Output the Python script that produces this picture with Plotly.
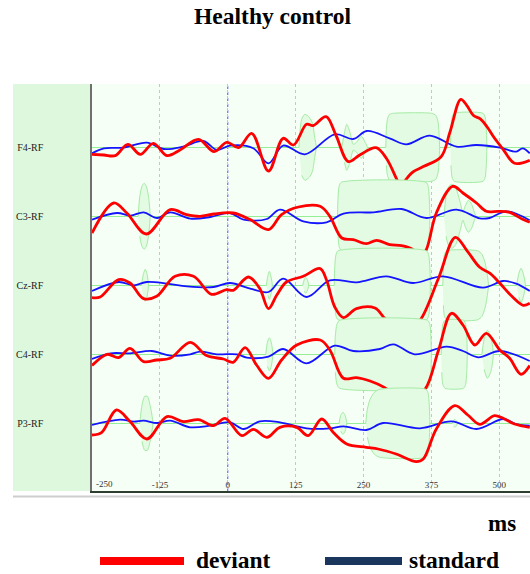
import plotly.graph_objects as go

# ---------------- data ----------------
channels = ["F4-RF", "C3-RF", "Cz-RF", "C4-RF", "P3-RF"]
baselines = [0, -69, -138, -207, -276]   # channel offsets (amplitude units)

tick_vals = [-250, -125, 0, 125, 250, 375, 500]
tick_text = ["-250", "-125", "0", "125", "250", "375", "500"]

# F4
f4_dev_t = [-250, -228, -207, -184, -161, -137, -112, -88, -54, -25, -2, 20, 44, 75, 102, 121, 145, 157, 181, 199, 222, 243, 273, 292, 312, 319, 327, 340, 360, 393, 409, 429, 440, 452, 466, 478, 490, 507, 528, 556]
f4_dev_v = [-7, -7.7, -8.3, 3, -7, 4, -8.3, -2.7, 8, -4.3, 5, -0.3, 14, -23.7, 9, 2.3, 23, 21.7, 30.7, 12.3, -14.3, -7.7, -0.3, -11, -33, -40, -33, -25, -19.3, -9.3, 15, 48, 42, 32, 28, 20, 10, -2, -16, -13]
f4_std_t = [-250, -228, -192, -149, -118, -82, -45, -20, 4, 47, 75, 102, 142, 197, 231, 256, 298, 329, 372, 421, 458, 501, 531, 543, 556]
f4_std_v = [-6, -1, -0.3, 4.7, -1.7, 0.7, 6.3, -2.7, 1.7, -1, -16, 1.7, -7, 13, 8.3, 16.3, 9, 3, 11.7, 0.7, 2.3, -0.3, -4.3, -1, -6]

# C3
c3_dev_t = [-250, -210, -186, -150, -106, -76, -51, -26, 10, 41, 75, 99, 130, 170, 188, 210, 231, 255, 274, 298, 320, 340, 352, 364, 384, 414, 433, 458, 476, 498, 519, 544, 556]
c3_dev_v = [-16.7, 13.3, 3.3, -17.7, 6.7, 1.7, 0, 2.3, 3.3, -3.3, -13.3, 1.7, 9.3, 10, 0, -21.7, -23.3, -27.3, -24, -28.3, -29.3, -33, -40, -35, 3.3, 30, 23.3, 13.3, 5, 5, 4, -3.3, -6]
c3_std_t = [-250, -204, -179, -155, -130, -106, -69, -32, 4, 29, 72, 96, 139, 182, 213, 268, 320, 366, 421, 464, 482, 513, 556]
c3_std_v = [-3.3, 3.3, 0.7, 4, -1.7, 4, -2.3, -0.7, 3.3, -3.3, -2.7, 6.7, -5, -6, 2.7, 4, 7.3, -1.7, 6.7, -2, -1.7, 5, -4]

# Cz
cz_dev_t = [-250, -235, -201, -180, -155, -131, -97, -63, -30, -2, 10, 38, 59, 75, 90, 108, 139, 170, 182, 197, 213, 237, 271, 289, 310, 335, 354, 388, 419, 440, 464, 483, 501, 525, 544, 556]
cz_dev_v = [-12.3, -11.7, 5.7, 2.3, -13.3, -11, 9, 9, -9, -4.3, -5, 8.3, -3.3, -23.3, -10, 3.3, 9, 16.7, 5, -21.7, -32.3, -23.3, -22.7, -33, -42, -42, -35, 7, 48, 35, 18, 12, 2, -12, -20, -18]
cz_std_t = [-250, -201, -173, -149, -112, -75, -26, 4, 41, 75, 102, 145, 188, 237, 292, 341, 396, 470, 507, 531, 556]
cz_std_v = [-5.7, 3.3, 0, 3.3, 1.7, -1, -1.7, 2.3, -3.3, -6.7, 6.7, -11.7, 5, 3, 9, 2.3, 9, -2.3, 4.3, 1.7, -5.7]

# C4
c4_dev_t = [-250, -222, -201, -180, -155, -131, -106, -69, -39, -8, 10, 32, 53, 75, 99, 127, 170, 188, 213, 237, 262, 289, 310, 340, 363, 388, 412, 433, 455, 476, 501, 519, 540, 556]
c4_dev_v = [-11.3, 0, -3.3, 6, -7.3, -5.7, -4, 12, -1.3, -4.7, -8, 6.7, -10.7, -24, -5.7, 9.3, 14.3, 4.3, -24, -23.3, -26.7, -33.3, -42, -42, -35, 4, 41, 29.3, 9.3, 21, 4.3, -4, -20, -11.3]
c4_std_t = [-250, -216, -180, -140, -106, -69, -51, -20, 17, 35, 75, 102, 145, 197, 231, 280, 305, 344, 403, 433, 461, 501, 556]
c4_std_v = [-4.7, 1, 1, 3.3, -1.3, 0, 2.7, 0, 0, -3.3, -2.3, 5.3, -9, 8.7, 3.3, 5.3, 10, 0, 7.7, 3.3, -3, 3.3, -6.7]

# P3
p3_dev_t = [-250, -232, -205, -180, -149, -112, -82, -54, -26, -5, 26, 47, 72, 96, 127, 148, 173, 194, 219, 255, 277, 310, 347, 360, 384, 418, 442, 464, 491, 507, 528, 556]
p3_dev_v = [-11.7, -9, 13.3, 1.7, -15.7, 6.7, 1.7, 3.7, -2.3, 5, -12.3, -6, -14, -4, -4, -12.3, 4.3, -9, -20.7, -24, -25.7, -30.7, -38.3, -35.7, -5.7, 17.7, 8.3, -1, 7.7, 5, -0.7, -4]
p3_std_t = [-250, -198, -173, -155, -130, -106, -69, -32, 4, 29, 59, 96, 145, 188, 213, 255, 286, 354, 412, 458, 507, 531, 556]
p3_std_v = [-1.7, 3.7, 1.7, 2.7, 0.3, 2.7, -4, -2.3, 1, -5.7, 2, 1, -5, -5, -3, -6.7, 0.3, -5, 2, -5.7, 4.3, -0.7, -2.3]

# significance envelopes (time, half-width)
f4_env = [
    ([131, 136, 142, 150, 156, 160, 163], [0, 28, 33, 30, 24, 10, 0]),
    ([210, 215, 219, 225, 231, 237, 246, 253, 257], [0, 15, 23, 15, 3, 5, 11, 5, 0]),
    ([291, 292, 294, 298, 305, 375, 383, 387, 389, 390], [0, 18, 28, 33, 34, 34, 32, 26, 14, 0]),
    ([410, 411, 413, 417, 470, 474, 476, 477], [0, 18, 30, 34, 34, 30, 18, 0]),
]
c3_env = [
    ([-165, -162, -158, -154, -150, -146, -143], [0, 20, 30, 33, 30, 20, 0]),
    ([202, 203, 205, 209, 365, 369, 371, 372], [0, 18, 30, 34, 34, 30, 18, 0]),
    ([398, 402, 407, 413, 420, 428, 433, 437, 443, 449, 454, 457], [0, 20, 30, 32, 28, 14, 4, 10, 16, 12, 4, 0]),
]
cz_env = [
    ([-159, -155, -152, -149, -146], [0, 12, 16, 12, 0]),
    ([71, 74, 76.5, 79, 82], [0, 10, 14, 10, 0]),
    ([138, 141, 143.5, 146, 149], [0, 6, 8, 6, 0]),
    ([196, 197, 199, 203, 366, 370, 372, 373], [0, 18, 30, 34.5, 34.5, 30, 18, 0]),
    ([396, 397, 399, 403, 460, 468, 474, 478, 480], [0, 20, 31, 34.5, 34.5, 31, 22, 10, 0]),
    ([532, 536, 540, 544, 548], [0, 12, 17, 12, 0]),
]
c4_env = [
    ([70, 73, 76.5, 80, 83], [0, 12, 16.5, 12, 0]),
    ([197, 198, 201, 206, 368, 372, 374, 375], [0, 18, 30, 34, 34, 30, 18, 0]),
    ([393, 394, 396, 400, 434, 438, 440, 441], [0, 18, 30, 34, 34, 30, 18, 0]),
    ([468, 472, 478, 484, 489], [0, 15, 24, 18, 0]),
]
p3_env = [
    ([-162, -158, -153, -148, -143, -138], [0, 18, 27, 27, 18, 0]),
    ([205, 208, 212, 216, 219], [0, 8, 11, 8, 0]),
    ([254, 257, 262, 270, 280, 365, 369, 371, 372], [0, 14, 24, 31, 34, 34, 30, 18, 0]),
    ([413, 416, 418, 420, 423], [0, 3, 4, 3, 0]),
]

series = [
    (f4_dev_t, f4_dev_v, f4_std_t, f4_std_v, f4_env),
    (c3_dev_t, c3_dev_v, c3_std_t, c3_std_v, c3_env),
    (cz_dev_t, cz_dev_v, cz_std_t, cz_std_v, cz_env),
    (c4_dev_t, c4_dev_v, c4_std_t, c4_std_v, c4_env),
    (p3_dev_t, p3_dev_v, p3_std_t, p3_std_v, p3_env),
]

# ---------------- styling ----------------
SERIF = "Liberation Serif"
RED = "#ff0000"
BLUE = "#1414ff"
NAVY = "#1b365d"
ENV_FILL = "rgb(226,251,226)"
ENV_LINE = "rgb(165,235,165)"

W, H = 530, 574
ML, MR, MT, MB = 92, 0, 84, 83
PW, PH = W - ML - MR, H - MT - MB


def px2paper_x(px):
    return (px - ML) / PW


def px2paper_y(py):
    return (H - MB - py) / PH


fig = go.Figure()

for (dt, dv, st, sv, envs), base in zip(series, baselines):
    for t, h in envs:
        xs = list(t) + list(t[-2:0:-1])
        ys = [base + v for v in h] + [base - v for v in h[-2:0:-1]]
        fig.add_trace(go.Scatter(
            x=xs, y=ys, mode="lines", fill="toself", fillcolor=ENV_FILL,
            line=dict(color=ENV_LINE, width=1, shape="spline", smoothing=0.7),
            hoverinfo="skip"))
    fig.add_trace(go.Scatter(
        x=st, y=[base + v for v in sv], mode="lines",
        line=dict(color=BLUE, width=1.8, shape="spline", smoothing=1.0),
        hoverinfo="skip"))
    fig.add_trace(go.Scatter(
        x=dt, y=[base + v for v in dv], mode="lines",
        line=dict(color=RED, width=2.8, shape="spline", smoothing=1.0),
        hoverinfo="skip"))

shapes = [
    # left label panel
    dict(type="rect", xref="paper", yref="paper", x0=px2paper_x(13), x1=0, y0=0, y1=1,
         fillcolor="rgb(222,248,222)", line=dict(width=0), layer="below"),
    # shadow line under the panel
    dict(type="line", xref="paper", yref="paper", x0=px2paper_x(13), x1=1,
         y0=px2paper_y(496.5), y1=px2paper_y(496.5),
         line=dict(color="#cdcdcd", width=2)),
    # stimulus onset
    dict(type="line", xref="x", yref="paper", x0=0, x1=0, y0=0, y1=1,
         line=dict(color="rgb(80,80,255)", width=1, dash="dot"), layer="between"),
    # legend swatches
    dict(type="line", xref="paper", yref="paper", x0=px2paper_x(100), x1=px2paper_x(184),
         y0=px2paper_y(561), y1=px2paper_y(561), line=dict(color=RED, width=8)),
    dict(type="line", xref="paper", yref="paper", x0=px2paper_x(325), x1=px2paper_x(402),
         y0=px2paper_y(561), y1=px2paper_y(561), line=dict(color=NAVY, width=8)),
]

annotations = [
    dict(text="-250", x=-250, xref="x", y=0, yref="paper", xanchor="left", yanchor="bottom",
         xshift=2, yshift=0, showarrow=False, font=dict(family=SERIF, size=9, color="#333")),
    dict(text="<b>ms</b>", x=px2paper_x(502), y=px2paper_y(523), xref="paper", yref="paper",
         xanchor="center", yanchor="middle", showarrow=False,
         font=dict(family=SERIF, size=23, color="black")),
    dict(text="<b>deviant</b>", x=px2paper_x(194), y=px2paper_y(560), xref="paper", yref="paper",
         xanchor="left", yanchor="middle", showarrow=False,
         font=dict(family=SERIF, size=23.5, color="black")),
    dict(text="<b>standard</b>", x=px2paper_x(407), y=px2paper_y(560), xref="paper", yref="paper",
         xanchor="left", yanchor="middle", showarrow=False,
         font=dict(family=SERIF, size=23.5, color="black")),
]

fig.update_layout(
    width=W, height=H,
    margin=dict(l=ML, r=MR, t=MT, b=MB, pad=0),
    paper_bgcolor="white", plot_bgcolor="rgb(245,255,245)",
    showlegend=False,
    title=dict(text="<b>Healthy control</b>", x=272.5 / W, xref="container", xanchor="center",
               y=1 - 16 / H, yref="container", yanchor="middle",
               font=dict(family=SERIF, size=23.5, color="black")),
    shapes=shapes, annotations=annotations,
)
fig.update_xaxes(
    range=[-250, 556.5], tickvals=tick_vals, ticktext=[""] + tick_text[1:],
    ticklabelposition="inside", ticks="", showgrid=True, gridcolor="#c6c6c6",
    griddash="dot", gridwidth=1, zeroline=False, showline=True,
    linecolor="#2f3f2f", linewidth=1.5,
    tickfont=dict(family=SERIF, size=9, color="#333"), fixedrange=True)
fig.update_yaxes(
    range=[-343.7, 63.3], tickvals=baselines, ticktext=channels, ticks="",
    showgrid=True, gridcolor="rgb(150,238,150)", gridwidth=1, zeroline=False,
    showline=True, linecolor="#707070", linewidth=1.5, ticklabelstandoff=45,
    tickfont=dict(family=SERIF, size=10, color="#222"), fixedrange=True)

fig.write_html("out.html", config={"displayModeBar": False},
               post_script="document.body.style.margin='0px';document.body.style.padding='0px';")
